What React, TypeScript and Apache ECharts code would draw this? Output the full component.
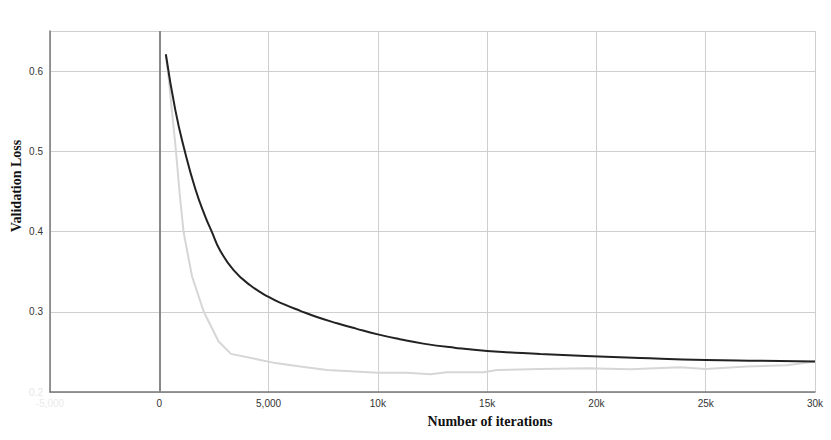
import React, { useEffect, useRef } from "react";
import * as echarts from "echarts";

const xTicks = [-5000, 0, 5000, 10000, 15000, 20000, 25000, 30000];
const yTicks = [0.2, 0.3, 0.4, 0.5, 0.6];

const blackIter = [300, 730, 1160, 1650, 2100, 2400, 2770, 3400, 4160, 5000, 5690, 6450, 7210, 8130, 9000, 10000, 11000, 12080, 13500, 15000, 17430, 19500, 22000, 25000, 27500, 30000];
const blackLoss = [0.621, 0.552, 0.501, 0.453, 0.419, 0.4, 0.377, 0.352, 0.333, 0.3185, 0.3095, 0.3012, 0.2935, 0.2857, 0.279, 0.2718, 0.2658, 0.2603, 0.2552, 0.2512, 0.2475, 0.245, 0.2425, 0.24, 0.239, 0.2379];

const grayIter = [300, 425, 655, 765, 940, 1110, 1190, 1500, 2030, 2715, 3280, 4620, 5220, 6450, 7670, 8740, 10000, 11330, 12400, 13160, 14830, 15450, 17430, 19570, 21550, 23840, 25000, 26880, 28710, 30000];
const grayLoss = [0.62, 0.592, 0.53, 0.5, 0.445, 0.4, 0.388, 0.344, 0.3004, 0.263, 0.2475, 0.24, 0.2366, 0.2317, 0.2275, 0.226, 0.2241, 0.2241, 0.222, 0.2246, 0.2246, 0.2275, 0.2287, 0.2296, 0.2283, 0.2309, 0.2287, 0.2317, 0.2334, 0.2379];

const xName = "Number of iterations";
const yName = "Validation Loss";

function fmtX(v: number): string {
  if (Math.abs(v) >= 10000) return `${v / 1000}k`;
  return v.toLocaleString("en-US");
}

export default function App() {
  const ref = useRef<HTMLDivElement>(null);
  useEffect(() => {
    if (!ref.current) return;
    const chart = echarts.init(ref.current, null, { renderer: "svg" });
    const black = blackIter.map((x, i) => [x, blackLoss[i]]);
    const gray = grayIter.map((x, i) => [x, grayLoss[i]]);
    chart.setOption({
      animation: false,
      backgroundColor: "#ffffff",
      grid: { left: 50, right: 16, top: 31, bottom: 48 },
      xAxis: {
        type: "value",
        min: xTicks[0],
        max: xTicks[xTicks.length - 1],
        interval: 5000,
        axisLine: { show: true, onZero: false, lineStyle: { color: "#777", width: 1.5 } },
        axisTick: { show: false },
        splitLine: { show: true, lineStyle: { color: "#cfcfcf", width: 1 } },
        axisLabel: {
          margin: 6,
          fontSize: 10,
          fontFamily: "Arial, Liberation Sans, sans-serif",
          color: (v: any) => (Number(v) < 0 ? "#ebebeb" : "#333"),
          formatter: (v: number) => fmtX(v),
        },
      },
      yAxis: {
        type: "value",
        min: yTicks[0],
        max: 0.65,
        interval: 0.1,
        axisLine: { show: true, onZero: false, lineStyle: { color: "#777", width: 1.5 } },
        axisTick: { show: false },
        splitLine: { show: true, lineStyle: { color: "#cfcfcf", width: 1 } },
        axisLabel: {
          margin: 7,
          fontSize: 10,
          fontFamily: "Arial, Liberation Sans, sans-serif",
          color: (v: any) => (Number(v) < 0.25 ? "#e6e6e6" : "#333"),
          formatter: (v: number) => (yTicks.some((t) => Math.abs(t - v) < 1e-9) ? v.toFixed(1) : ""),
        },
      },
      graphic: [
        {
          type: "text",
          x: 490,
          y: 421,
          style: {
            text: xName,
            fontFamily: "Liberation Serif, Times New Roman, serif",
            fontWeight: "bold",
            fontSize: 14,
            fill: "#111",
            align: "center",
            verticalAlign: "middle",
          },
        },
        {
          type: "text",
          x: 16,
          y: 186,
          rotation: Math.PI / 2,
          style: {
            text: yName,
            fontFamily: "Liberation Serif, Times New Roman, serif",
            fontWeight: "bold",
            fontSize: 14,
            fill: "#111",
            align: "center",
            verticalAlign: "middle",
          },
        },
      ],
      series: [
        {
          type: "line",
          data: gray,
          showSymbol: false,
          smooth: false,
          lineStyle: { color: "#d6d6d6", width: 2 },
          z: 3,
          markLine: {
            silent: true,
            symbol: ["none", "none"],
            label: { show: false },
            lineStyle: { color: "#888", width: 2, type: "solid" },
            data: [{ xAxis: 0 }],
          },
        },
        {
          type: "line",
          data: black,
          showSymbol: false,
          smooth: 0.5,
          lineStyle: { color: "#222", width: 2 },
          z: 4,
        },
      ],
    });
    return () => chart.dispose();
  }, []);
  return <div ref={ref} style={{ width: 831, height: 440, position: "absolute", left: 0, top: 0 }} />;
}
